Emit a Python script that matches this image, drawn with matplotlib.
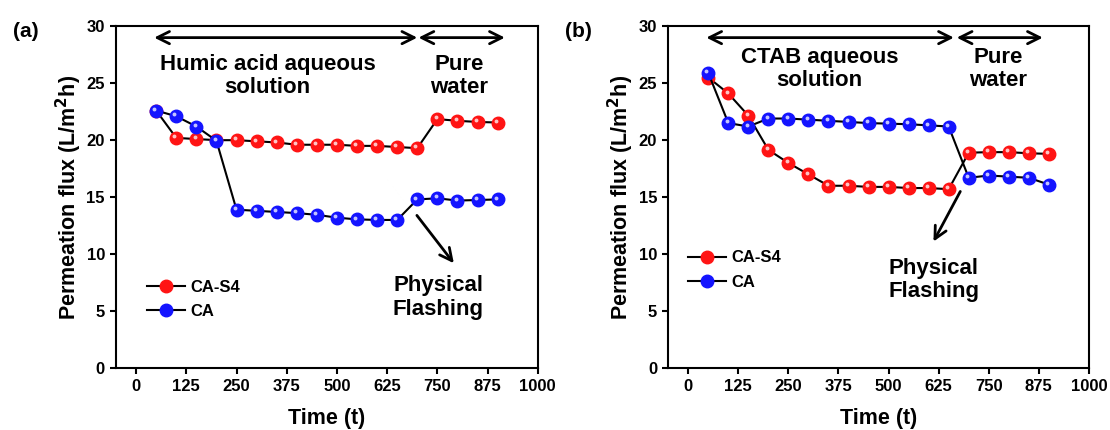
import numpy as np
import matplotlib.pyplot as plt
from matplotlib.transforms import offset_copy

plt.rcParams['font.family'] = ['Liberation Sans', 'DejaVu Sans']
plt.rcParams['font.weight'] = 'bold'
plt.rcParams['axes.labelweight'] = 'bold'
plt.rcParams['mathtext.default'] = 'bf'

time = [50, 100, 150, 200, 250, 300, 350, 400, 450,
        500, 550, 600, 650, 700, 750, 800, 850, 900]

# (a) humic acid
a_cas4 = [22.6, 20.2, 20.1, 20.0, 20.0, 19.9, 19.8, 19.6, 19.6,
          19.6, 19.5, 19.5, 19.4, 19.3, 21.85, 21.7, 21.6, 21.55]
a_ca = [22.6, 22.1, 21.2, 19.95, 13.9, 13.8, 13.7, 13.6, 13.45,
        13.2, 13.05, 13.0, 13.0, 14.8, 14.9, 14.7, 14.75, 14.8]

# (b) CTAB
b_cas4 = [25.5, 24.1, 22.15, 19.15, 18.0, 17.0, 16.0, 16.0, 15.9,
          15.9, 15.8, 15.8, 15.7, 18.9, 18.95, 18.95, 18.85, 18.8]
b_ca = [25.9, 21.5, 21.2, 21.9, 21.9, 21.8, 21.7, 21.6, 21.5,
        21.45, 21.4, 21.3, 21.2, 16.7, 16.9, 16.8, 16.7, 16.1]

xticks = [0, 125, 250, 375, 500, 625, 750, 875, 1000]


def sphere_line(ax, x, y, color, label):
    ax.plot(x, y, '-o', color='black', lw=1.5, ms=9,
            mfc=color, mec=color, label=label)
    hl = offset_copy(ax.transData, fig=ax.figure, x=-1.3, y=1.3, units='points')
    ax.plot(x, y, 'o', ms=2.8, mfc='white', mec='none', alpha=0.75, transform=hl)


def panel(ax, red, blue, tag, seg1, seg2, txt1, txt1_pos, txt2_pos,
          flash_arrow, flash_pos, leg_anchor):
    sphere_line(ax, time, red, '#ff1414', 'CA-S4')
    sphere_line(ax, time, blue, '#1414ff', 'CA')
    ax.set_xlim(-50, 1000)
    ax.set_ylim(0, 30)
    ax.set_xticks(xticks)
    ax.set_yticks(range(0, 31, 5))
    ax.tick_params(labelsize=12, width=1.5, length=4.5, direction='out')
    for s in ax.spines.values():
        s.set_linewidth(1.5)
    ax.set_xlabel('Time (t)', fontsize=15.5, labelpad=10)
    ax.set_ylabel('Permeation flux (L/m$^2$h)', fontsize=15.5, labelpad=2)

    ap = dict(arrowstyle='<->', lw=2, color='black', mutation_scale=22,
              shrinkA=0, shrinkB=0)
    ax.annotate('', xy=(seg1[0], 29), xytext=(seg1[1], 29), arrowprops=ap)
    ax.annotate('', xy=(seg2[0], 29), xytext=(seg2[1], 29), arrowprops=ap)
    ax.text(txt1_pos[0], txt1_pos[1], txt1, ha='center', va='center',
            fontsize=16, fontweight='bold', linespacing=1.15)
    ax.text(txt2_pos[0], txt2_pos[1], 'Pure\nwater', ha='center', va='center',
            fontsize=16, fontweight='bold', linespacing=1.15)
    ax.annotate('', xy=flash_arrow[1], xytext=flash_arrow[0],
                arrowprops=dict(arrowstyle='->', lw=2, color='black',
                                mutation_scale=22, shrinkA=0, shrinkB=0))
    ax.text(flash_pos[0], flash_pos[1], 'Physical\nFlashing', ha='center',
            va='center', fontsize=16, fontweight='bold', linespacing=1.15)

    h, l = ax.get_legend_handles_labels()
    ax.legend(h, l, loc='center left', bbox_to_anchor=leg_anchor,
              frameon=False, fontsize=12, handlelength=2.3, handletextpad=0.3,
              borderaxespad=0, borderpad=0, labelspacing=0.55)
    ax.figure.text(ax.get_position().x0 - 0.093, 0.915, tag,
                   fontsize=15, fontweight='bold')


fig = plt.figure(figsize=(11.1, 4.3), dpi=100)
ax1 = fig.add_axes([0.1045, 0.144, 0.380, 0.795])
ax2 = fig.add_axes([0.602, 0.144, 0.379, 0.795])

panel(ax1, a_cas4, a_ca, '(a)', (45, 700), (703, 918),
      'Humic acid aqueous\nsolution', (327, 25.65), (805, 25.65),
      ((699, 13.4), (791, 9.2)), (752, 6.2), (0.073, 0.20))
panel(ax2, b_cas4, b_ca, '(b)', (45, 663), (670, 885),
      'CTAB aqueous\nsolution', (328, 26.25), (773, 26.25),
      ((679, 15.5), (612, 11.1)), (613, 7.75), (0.047, 0.287))

fig.savefig('out.png', dpi=100)
